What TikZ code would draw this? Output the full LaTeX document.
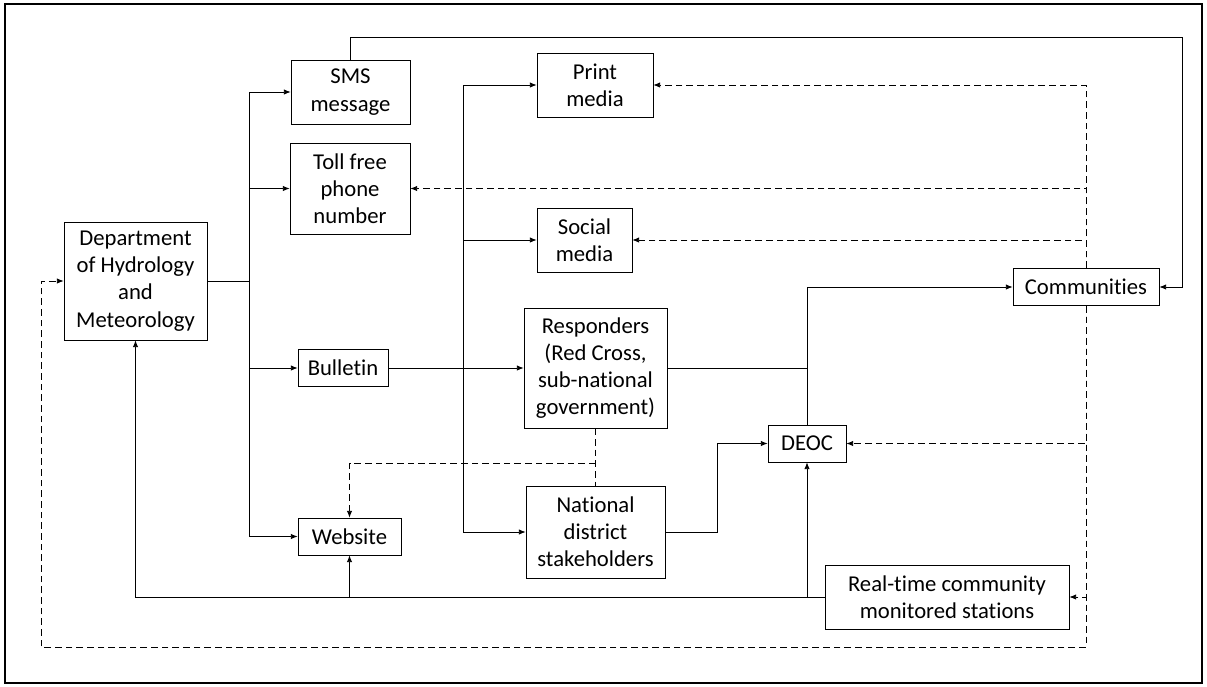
\documentclass[tikz,border=0pt]{standalone}
\usepackage{fontspec}
\setmainfont{Carlito}[Ligatures=NoCommon]
\usetikzlibrary{arrows.meta}
\begin{document}
\begin{tikzpicture}[x=0.75pt,y=-0.75pt,>={Latex[length=5pt,width=4pt]},
    line width=0.6pt,
    box/.style={draw,inner sep=0,align=center,font=\fontsize{17}{20.4}\selectfont},
    fb/.style={dashed,dash pattern=on 5pt off 3pt}]
    \useasboundingbox (0,0) rectangle (1207,686);
    \draw[line width=1.2pt] (5,4) rectangle (1202,683);
    \path (135.5,281) node [box,minimum width=107.25pt,minimum height=88.5pt](dhm){Department\\of Hydrology\\and\\Meteorology};
    \path (350.5,92) node [box,minimum width=89.25pt,minimum height=48pt](sms){SMS\\message};
    \path (350,188.5) node [box,minimum width=90pt,minimum height=68.25pt](toll){Toll free\\phone\\number};
    \path (343,368) node [box,minimum width=67.5pt,minimum height=27.75pt](bull){Bulletin};
    \path (349.5,536.5) node [box,minimum width=77.25pt,minimum height=27.75pt](web){Website};
    \path (595,85) node [box,minimum width=87pt,minimum height=48pt](print){Print\\media};
    \path (584.5,240) node [box,minimum width=71.25pt,minimum height=48pt](soc){Social\\media};
    \path (595.5,368) node [box,minimum width=107.25pt,minimum height=90pt](resp){Responders\\(Red Cross,\\sub-national\\government)};
    \path (595.5,532) node [box,minimum width=104.25pt,minimum height=69pt](nat){National\\district\\stakeholders};
    \path (807,443.5) node [box,minimum width=58.5pt,minimum height=27.75pt](deoc){DEOC};
    \path (1086,287) node [box,minimum width=109.5pt,minimum height=27.75pt](comm){Communities};
    \path (947,597) node [box,minimum width=183pt,minimum height=48pt](rt){Real-time community\\monitored stations};
    % junctions
    \coordinate (b1) at (249,281);
    \coordinate (b2) at (463,368);
    \coordinate (top) at (1182,37);
    \coordinate (n1) at (717,532);
    \coordinate (d1) at (595.5,463);
    \coordinate (c2) at (41,647);
    % outgoing warnings
    \draw (dhm.east) -- (b1);
    \draw[->] (b1) |- (sms.west);
    \draw[->] (b1) |- (toll.west);
    \draw[->] (b1) |- (bull.west);
    \draw[->] (b1) |- (web.west);
    \draw[->] (sms.north) |- (top) |- (comm.east);
    \draw (bull.east) -- (b2);
    \draw[->] (b2) |- (print.west);
    \draw[->] (b2) |- (soc.west);
    \draw[->] (b2) -- (resp.west);
    \draw[->] (b2) |- (nat.west);
    \draw (resp.east) -- (resp.east -| deoc.north);
    \draw[->] (deoc.north) |- (comm.west);
    \draw[->] (nat.east) -- (n1) |- (deoc.west);
    \draw[fb] (resp.south) -- (nat.north);
    \draw[fb,->] (d1) -| (web.north);
    % station data
    \draw[->] (rt.west) -| (dhm.south);
    \draw[->] (web.south |- rt.west) -- (web.south);
    \draw[->] (deoc.south |- rt.west) -- (deoc.south);
    % feedback
    \draw[fb,->] (comm.north) |- (print.east);
    \draw[fb,->] (comm.north) |- (toll.east);
    \draw[fb,->] (comm.north) |- (soc.east);
    \draw[fb,->] (comm.south) |- (deoc.east);
    \draw[fb,->] (comm.south) |- (rt.east);
    \draw[fb,->] (comm.south) |- (c2) |- (dhm.west);
\end{tikzpicture}
\end{document}
